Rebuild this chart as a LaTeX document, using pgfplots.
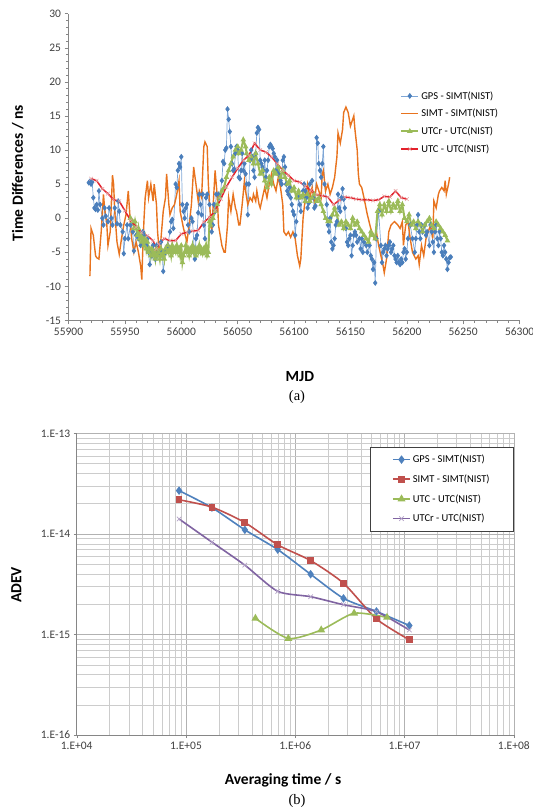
\documentclass[border=0pt]{standalone}
\usepackage{fontspec}
\setmainfont{Carlito}
\newfontfamily\seriffont{Liberation Serif}
\usepackage{pgfplots}
\pgfplotsset{compat=1.18}
\definecolor{gpsA}{HTML}{4A7EBB}
\definecolor{gpsAline}{HTML}{7EA6D6}
\definecolor{simtA}{HTML}{E8731E}
\definecolor{utcrA}{HTML}{9BBB59}
\definecolor{utcA}{HTML}{E3202B}
\definecolor{utcAmark}{HTML}{E6A0A0}
\definecolor{bBlue}{HTML}{4F81BD}
\definecolor{bRed}{HTML}{C0504D}
\definecolor{bGreen}{HTML}{9BBB59}
\definecolor{bPurple}{HTML}{8064A2}
\definecolor{bPurpleMark}{HTML}{B3A2C7}
\definecolor{axgray}{HTML}{868686}
\definecolor{tlab}{HTML}{404040}
\begin{document}
\begin{tikzpicture}
\useasboundingbox (0pt,0pt) rectangle (533pt,812pt);
% ---------------- (a) ----------------
\begin{axis}[
  at={(68.5pt,491.6pt)}, anchor=south west,
  scale only axis, width=451.1pt, height=306.7pt,
  xmin=55900, xmax=56300, ymin=-15, ymax=30,
  scaled x ticks=false, scaled y ticks=false,
  axis lines*=left,
  axis line style={axgray, line width=0.6pt},
  xtick={55900,55950,56000,56050,56100,56150,56200,56250,56300},
  xticklabels={55900,55950,56000,56050,56100,56150,56200,56250,56300},
  ytick={-15,-10,-5,0,5,10,15,20,25,30},
  yticklabels={-15,-10,-5,0,5,10,15,20,25,30},
  minor x tick num=4, minor y tick num=4,
  tick align=outside, tick pos=left,
  major tick length=4pt, minor tick length=2.5pt,
  tick style={axgray, line width=0.5pt},
  ticklabel style={font=\fontsize{11.5}{13}\selectfont, text=tlab},
  xlabel={\textbf{MJD}}, ylabel={\textbf{Time Differences / ns}},
  label style={font=\fontsize{15.5}{18}\selectfont},
  xlabel style={at={(axis description cs:0.513,-0.1845)}, anchor=center},
  ylabel style={at={(axis description cs:-0.1126,0.48)}, anchor=center, rotate=0},
  legend style={draw=none, fill=none, at={(0.735,0.754)}, anchor=north west,
    font=\fontsize{10.5}{12}\selectfont, row sep=4.5pt, inner sep=0pt},
  legend cell align=left,
]
\addplot[gpsAline, line width=0.7pt, mark=diamond*, mark size=2.4pt, mark options={gpsA, fill=gpsA}] coordinates {
(55918,5.2)(55919,5.4)(55920,5.0)(55921,5.3)(55922,3)(55923,1.5)(55924,1.3)(55925,2)(55926,1.2)(55927,4)(55928,2)(55930,0)(55931,-1)(55932,1.5)(55933,0.3)(55935,-0.5)(55936,1.5)(55938,0)(55939,-1)(55941,1.5)(55943,-0.8)(55944,2.5)(55945,1)(55946,-1)(55948,-2)(55949,-5.2)(55950,-3)(55952,-1)(55953,-3)(55955,-1)(55957,-2)(55958,-4.8)(55960,-2.5)(55962,-3)(55964,-4)(55966,-2)(55967,-2.5)(55969,-4)(55970,-3)(55971,-5)(55972,-6.8)(55974,-5.5)(55975,-4)(55977,-6)(55978,-4)(55980,-5)(55982,-3.5)(55983,-5)(55984,-7.8)(55986,-5)(55988,-4)(55990,-2)(55991,-0.5)(55992,-0.2)(55993,-1.5)(55995,5)(55996,4.5)(55997,7)(55998,8)(55999,7.5)(56000,9)(56001,2)(56002,1)(56003,0)(56004,1.5)(56005,2)(56006,-1)(56007,-2)(56009,0)(56010,-0.5)(56012,-6)(56013,-3)(56014,-2.5)(56015,0.8)(56016,3.5)(56017,2)(56018,0.5)(56019,3.5)(56020,-1)(56021,-3)(56022,3)(56023,3.5)(56025,2)(56027,-2)(56028,-1)(56029,2)(56030,1)(56031,3.5)(56033,3.5)(56034,3)(56036,5.5)(56037,8.3)(56038,8)(56039,10)(56040,10.3)(56041,16)(56042,14.5)(56043,12.7)(56044,10.5)(56045,8)(56046,7)(56047,7.2)(56048,9.5)(56049,10.5)(56050,10)(56051,6)(56052,5.8)(56053,7)(56054,9.5)(56055,7)(56056,8)(56057,6.5)(56058,5)(56059,0.5)(56060,5)(56061,8.5)(56062,10)(56063,9)(56064,7)(56065,6)(56066,9.5)(56067,12.5)(56068,13.3)(56069,13)(56070,8.5)(56071,8)(56072,7.5)(56073,7)(56074,8.5)(56075,6)(56076,7)(56077,8.5)(56078,10.5)(56079,10.8)(56080,10.5)(56081,10.2)(56082,9.5)(56083,9)(56084,7)(56085,8.5)(56086,6.5)(56088,5.5)(56089,5)(56090,8.5)(56091,9)(56092,7.5)(56093,5)(56094,4)(56095,3.5)(56096,4.5)(56097,3)(56098,2)(56099,1)(56100,0.5)(56101,-2.5)(56102,-0.5)(56104,3)(56105,2)(56106,1)(56108,4)(56109,5)(56110,4)(56111,3)(56112,1.5)(56113,2.2)(56114,5)(56116,5.5)(56117,3)(56118,1.5)(56119,1.8)(56120,11.8)(56121,11)(56122,8)(56123,7)(56124,6)(56125,8)(56126,10.5)(56127,5)(56129,2)(56130,-1)(56131,-2)(56132,0)(56133,-3.5)(56134,-4.5)(56135,-4)(56136,-3)(56137,-1)(56138,-0.5)(56139,3.5)(56140,1.5)(56141,1)(56142,3)(56143,4.3)(56144,2.8)(56145,1.5)(56146,-1.5)(56147,-3.5)(56148,-4)(56149,-3)(56150,-2.5)(56151,-5.5)(56152,-4)(56153,-2.5)(56154,-2)(56155,-2.5)(56156,-3.5)(56158,-3)(56159,-4.5)(56160,-3)(56161,-5)(56162,-3.5)(56164,-4)(56165,-5)(56167,-4)(56168,-5.5)(56169,-6)(56170,-7.5)(56171,-6.5)(56172,-9.5)(56173,-3)(56175,1)(56177,-4)(56178,-6.5)(56179,-5)(56180,-4.5)(56181,-4)(56182,-5.5)(56183,-4.5)(56184,-4)(56185,-3.5)(56186,-5)(56187,-4.5)(56188,-4)(56189,-5.5)(56190,-6)(56191,-6.5)(56192,-5.5)(56193,-6.5)(56194,-6.8)(56195,-6)(56196,-6.5)(56197,-5)(56198,-4.5)(56199,-6)(56200,-5)(56201,-3)(56203,-1)(56205,-3)(56207,-5)(56208,-3)(56209,-1)(56210,0.5)(56211,-2)(56212,-3)(56213,-1)(56214,-2)(56216,-1)(56217,-2.5)(56218,-2)(56220,-4)(56221,-1)(56222,-2)(56223,-3.5)(56224,-5)(56225,-2)(56226,-1)(56227,-3)(56228,-4)(56229,-2)(56230,-3)(56231,-5)(56232,-5.5)(56233,-4)(56234,-5)(56235,-6)(56236,-7.5)(56237,-6.5)(56238,-5.8)(56239,-5.7)
};
\addlegendentry{GPS - SIMT(NIST)}
\addplot[simtA, line width=1.4pt, no marks] coordinates {
(55919,-8.5)(55920,-1.5)(55922,-2.5)(55924,-5.5)(55925,-5.8)(55927,-6.0)(55929,-2)(55931,3.5)(55932,1.5)(55934,-1)(55935,-4)(55937,-2)(55939,6.3)(55940,5)(55941,1)(55943,-3.5)(55945,-5.3)(55947,-3)(55949,-1)(55951,0.5)(55953,4)(55955,-1)(55956,-3)(55958,-5)(55960,-3.5)(55962,-5)(55964,-7)(55965,-9)(55966,-4)(55967,0)(55968,3)(55970,5.5)(55971,3)(55973,5)(55975,2.5)(55976,5)(55978,2)(55979,-2)(55981,-6)(55982,-3)(55984,1)(55986,3)(55987,6.5)(55989,2)(55990,0.5)(55992,1.5)(55994,2)(55996,3.5)(55998,5.5)(55999,1)(56002,-1.5)(56005,-3.5)(56007,-1)(56009,2)(56011,7.5)(56013,5)(56015,2.5)(56016,4)(56018,3)(56020,10.5)(56021,11.2)(56023,10.5)(56024,5)(56026,0)(56027,-2)(56029,4)(56030,7)(56032,3)(56033,-1)(56035,-3)(56036,-4)(56038,-5)(56039,-5)(56041,-1)(56042,3)(56044,1)(56046,3.5)(56048,1.5)(56049,1)(56051,-1)(56052,-1)(56054,2)(56056,5.5)(56057,4)(56059,2)(56061,3)(56063,2.5)(56064,3.5)(56066,2.5)(56067,4)(56069,2)(56070,1.5)(56072,3)(56074,4.5)(56076,3)(56078,5)(56080,6.5)(56082,5)(56084,4)(56086,6)(56088,4.5)(56090,2)(56091,-2)(56093,-2.5)(56095,-2)(56097,-2.8)(56099,-2)(56101,-3)(56103,-5.5)(56105,-7)(56106,-6)(56108,0)(56110,3)(56112,5)(56114,3)(56116,4.5)(56118,2.5)(56120,5)(56122,4)(56124,3)(56125,6.5)(56126,7)(56128,4)(56130,5)(56132,3.5)(56134,4.5)(56136,6)(56138,9)(56139,12.5)(56141,11)(56143,13)(56144,15.5)(56146,16.3)(56148,15.5)(56150,13.5)(56151,14)(56153,15)(56154,13)(56156,10)(56157,6.5)(56158,5)(56160,4.5)(56162,3)(56165,0.5)(56168,-1.5)(56171,-3)(56173,-2)(56175,-4)(56177,-5.5)(56179,-7)(56180,-8)(56182,-6)(56184,-2)(56186,-1)(56189,-0.5)(56192,-1)(56194,-1.5)(56196,-0.5)(56197,-4)(56199,-1)(56201,-0.5)(56203,-3)(56205,-5)(56208,-6)(56210,-5.5)(56211,-6.8)(56213,-4)(56215,-5.5)(56217,-3)(56219,-2)(56221,-1)(56223,-3)(56224,2.5)(56226,1.5)(56228,3.5)(56229,4)(56231,4.5)(56233,4)(56234,5.5)(56235,3.5)(56237,5)(56238,6)
};
\addlegendentry{SIMT - SIMT(NIST)}
\addplot[utcrA, line width=2pt, mark=triangle*, mark size=1.3pt, mark options={utcrA}] coordinates {
(55955,0)(55957,-0.5)(55958,-1.5)(55959,-0.5)(55960,-1.5)(55961,-2.5)(55962,-1.5)(55963,-3)(55964,-2.5)(55965,-3.5)(55966,-3)(55967,-4)(55968,-3)(55969,-4.5)(55970,-3.5)(55971,-5)(55972,-4.5)(55973,-5.5)(55974,-4.5)(55975,-5.5)(55976,-5)(55977,-6)(55978,-4.5)(55979,-5.5)(55980,-5)(55981,-6)(55982,-4.5)(55983,-5.5)(55984,-5)(55985,-6)(55986,-4.5)(55987,-5)(55988,-4)(55989,-5)(55990,-4.5)(55991,-5.5)(55992,-4)(55993,-5)(55994,-4.5)(55995,-5)(55996,-4)(55997,-5)(55998,-4.5)(55999,-5.5)(56000,-4)(56001,-6.5)(56002,-5.5)(56003,-5)(56004,-4)(56005,-5)(56006,-4.5)(56007,-5.5)(56008,-4.5)(56009,-5)(56010,-4)(56011,-5)(56012,-4.5)(56013,-5.5)(56014,-4.5)(56015,-5)(56016,-4)(56017,-5)(56018,-4.5)(56019,-5.2)(56020,-4.5)(56021,-5)(56022,-4)(56023,-5.5)(56024,-5)(56025,-0.5)(56026,-1)(56028,0)(56030,1)(56032,2)(56034,3)(56036,4)(56038,4.5)(56040,6)(56042,7)(56044,8)(56046,9)(56048,10)(56050,10.5)(56051,9.5)(56053,10)(56055,11.5)(56057,10.5)(56058,9.5)(56060,8.5)(56062,9)(56064,8)(56066,9.5)(56068,8)(56070,6.5)(56072,7)(56074,5.5)(56076,4.5)(56078,6)(56080,5)(56082,7)(56084,6.5)(56086,7.5)(56088,6)(56090,7)(56092,6)(56094,5)(56096,5.5)(56098,4)(56100,4.5)(56102,3)(56104,4)(56106,3)(56108,3.5)(56110,2.5)(56112,3.5)(56114,2.5)(56116,3)(56118,3.5)(56120,2.5)(56122,3)(56124,2)(56126,1)(56128,0)(56130,-0.5)(56132,-0.5)(56134,0.5)(56136,1.5)(56138,0.5)(56140,-1)(56142,-0.5)(56144,-1.5)(56146,-0.5)(56148,-1)(56150,-1.5)(56152,0)(56154,-1)(56156,-0.5)(56158,-1.5)(56160,-2)(56162,-2.5)(56164,-3)(56166,-3.5)(56168,-2)(56170,-2.5)(56172,-3)(56174,1)(56176,2)(56178,0.5)(56180,2)(56182,1)(56184,2.5)(56186,1)(56188,2)(56190,1.5)(56192,2.5)(56194,1)(56196,2)(56198,0)(56200,-0.5)(56202,0.5)(56204,-1)(56206,-0.5)(56208,-1.5)(56210,-0.5)(56212,-1)(56214,-2)(56216,-1)(56218,-0.5)(56220,0)(56222,-1)(56224,-1.5)(56226,-0.5)(56228,-1)(56230,-1.5)(56232,-2)(56234,-2.5)(56236,-3.3)
};
\addlegendentry{UTCr - UTC(NIST)}
\addplot[utcA, line width=1.5pt, mark=x, mark size=2.6pt, mark options={utcAmark, line width=0.5pt}] coordinates {
(55920,5.8)(55925,5.5)(55930,4.3)(55935,3.6)(55940,2.7)(55945,2.5)(55950,1.1)(55955,-0.3)(55960,-1.3)(55965,-2.1)(55970,-2.6)(55975,-3.3)(55978,-4.5)(55980,-3.8)(55985,-3.0)(55990,-3.3)(55995,-3.3)(56000,-2.3)(56005,-2.1)(56010,-1.9)(56015,-1.8)(56020,-0.6)(56025,0.1)(56030,1.1)(56035,2.8)(56040,4.6)(56045,6.0)(56050,7.3)(56055,8.5)(56060,9.2)(56065,11.0)(56070,10.0)(56075,9.7)(56080,9.0)(56085,8.0)(56090,7.0)(56095,6.3)(56100,5.5)(56105,5.3)(56110,4.7)(56115,4.1)(56120,3.4)(56125,3.3)(56130,3.1)(56135,2.0)(56140,2.6)(56145,3.1)(56150,3.0)(56155,2.8)(56160,2.7)(56165,2.7)(56170,2.6)(56175,2.7)(56180,3.2)(56185,3.1)(56190,4.0)(56195,3.0)(56200,2.8)
};
\addlegendentry{UTC - UTC(NIST)}
\end{axis}
\node[font=\seriffont\fontsize{14.5}{16}\selectfont] at (297pt,415pt) {(a)};
% ---------------- (b) ----------------
\begin{axis}[
  at={(76.7pt,76.9pt)}, anchor=south west,
  scale only axis, width=437.1pt, height=301.7pt,
  xmode=log, ymode=log,
  xmin=1e4, xmax=1e8, ymin=1e-16, ymax=1e-13,
  axis x line*=bottom, axis y line*=left,
  axis line style={axgray, line width=0.6pt},
  xtick={1e4,1e5,1e6,1e7,1e8},
  xticklabels={1.E+04,1.E+05,1.E+06,1.E+07,1.E+08},
  ytick={1e-16,1e-15,1e-14,1e-13},
  yticklabels={1.E-16,1.E-15,1.E-14,1.E-13},
  grid=both,
  major grid style={black!30, line width=0.5pt},
  minor grid style={black!20, line width=0.45pt},
  tick align=outside, tick pos=left,
  major tick length=3pt, minor tick length=0pt,
  tick style={axgray},
  ticklabel style={font=\fontsize{11.5}{13}\selectfont, text=tlab},
  xlabel={\textbf{Averaging time / s}}, ylabel={\textbf{ADEV}},
  label style={font=\fontsize{15.5}{18}\selectfont},
  xlabel style={at={(axis description cs:0.472,-0.149)}, anchor=center},
  ylabel style={at={(axis description cs:-0.138,0.4975)}, anchor=center},
  legend style={at={(1,0.9556)}, anchor=north east, draw=black!75, fill=white,
    font=\fontsize{10.5}{12}\selectfont, row sep=6.5pt, inner xsep=22pt, inner ysep=6pt},
  legend cell align=left,
]
\addplot[bBlue, line width=1.6pt, smooth, tension=0.4, mark=diamond*, mark size=3pt, mark options={bBlue, fill=bBlue}] coordinates {
(86400,2.70e-14)(172800,1.83e-14)(345600,1.10e-14)(691200,7.0e-15)(1382400,3.98e-15)(2764800,2.29e-15)(5529600,1.70e-15)(11059200,1.23e-15)
};
\addlegendentry{GPS - SIMT(NIST)}
\addplot[bRed, line width=1.6pt, smooth, tension=0.4, mark=square*, mark size=2.6pt, mark options={bRed, fill=bRed}] coordinates {
(86400,2.19e-14)(172800,1.85e-14)(345600,1.30e-14)(691200,7.8e-15)(1382400,5.44e-15)(2764800,3.24e-15)(5529600,1.43e-15)(11059200,8.87e-16)
};
\addlegendentry{SIMT - SIMT(NIST)}
\addplot[bGreen, line width=1.6pt, smooth, tension=0.4, mark=triangle*, mark size=3pt, mark options={bGreen, fill=bGreen}] coordinates {
(432000,1.45e-15)(864000,9.14e-16)(1728000,1.11e-15)(3456000,1.63e-15)(6912000,1.48e-15)
};
\addlegendentry{UTC - UTC(NIST)}
\addplot[bPurple, line width=1.6pt, smooth, tension=0.4, mark=x, mark size=3.2pt, mark options={bPurpleMark, line width=0.7pt}] coordinates {
(86400,1.41e-14)(172800,8.3e-15)(345600,4.9e-15)(691200,2.69e-15)(1382400,2.38e-15)(2764800,1.98e-15)(5529600,1.69e-15)(11059200,1.11e-15)
};
\addlegendentry{UTCr - UTC(NIST)}
\end{axis}
\node[font=\seriffont\fontsize{14.5}{16}\selectfont] at (297pt,11pt) {(b)};
\end{tikzpicture}
\end{document}
